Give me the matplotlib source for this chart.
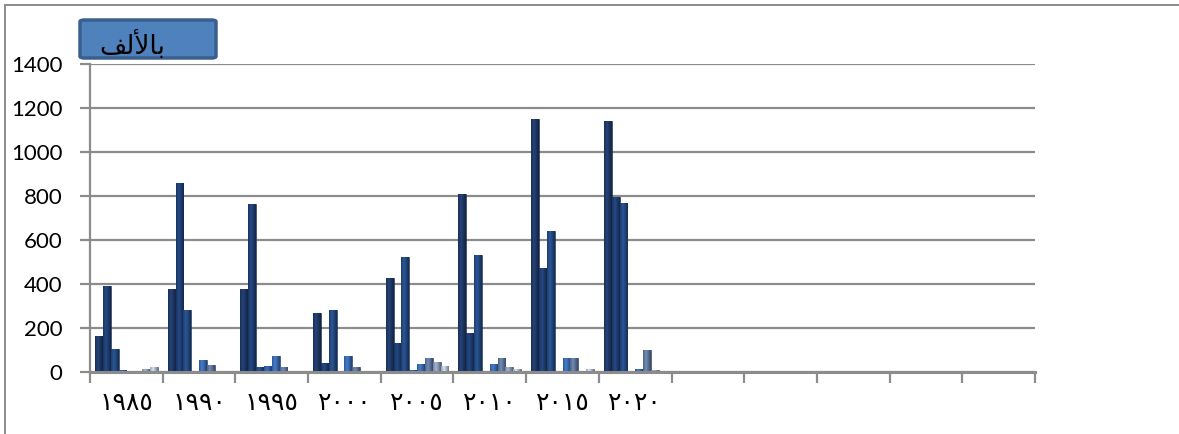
import matplotlib
matplotlib.use("Agg")
import matplotlib.pyplot as plt
import numpy as np
from matplotlib.patches import FancyBboxPatch
from matplotlib.colors import to_rgb
from matplotlib.lines import Line2D

# ---- data ----
years = ["١٩٨٥", "١٩٩٠", "١٩٩٥", "٢٠٠٠", "٢٠٠٥", "٢٠١٠", "٢٠١٥", "٢٠٢٠"]
n_slots = 13
s1 = [165, 376, 376, 267, 426, 808, 1149, 1139]
s2 = [390, 857, 762, 39, 130, 176, 471, 797]
s3 = [103, 280, 24, 282, 521, 530, 641, 767]
s4 = [8, 3, 27, 3, 8, 3, 3, 5]
s5 = [2, 54, 73, 73, 36, 36, 62, 12]
s6 = [3, 32, 22, 22, 62, 62, 62, 100]
s7 = [15, 3, 3, 3, 44, 22, 3, 10]
s8 = [22, 3, 3, 3, 27, 15, 12, 3]
series = [s1, s2, s3, s4, s5, s6, s7, s8]
colors = ["#1F3A68", "#1F3F74", "#244A82", "#2E62AC", "#3A6BB2",
          "#60789E", "#8C9DBB", "#B7C3D8"]
yticks = [0, 200, 400, 600, 800, 1000, 1200, 1400]
unit_label = "\uFED2\uFEDF\uFEF7\uFE8E\uFE91"  # بالألف (shaped, visual order)

W, H = 1179, 434
fig = plt.figure(figsize=(W / 100, H / 100), dpi=100)
ax = fig.add_axes([90 / W, 1 - 372 / H, (1035 - 90) / W, (372 - 64) / H])

grid_c = "#8C8C8C"
bw = 0.1078
x = np.arange(len(years))
for k, (vals, c) in enumerate(zip(series, colors)):
    pos = x + 0.5 + (k - 3.5) * bw
    bars = ax.bar(pos, vals, width=bw, color=c, edgecolor="#14284A",
                  linewidth=0.4, zorder=3)
    base = np.array(to_rgb(c))
    t = np.linspace(0, 1, 24)
    f = 1 - np.abs(t - 0.38) * 1.6
    light = np.clip(base[None, :] * (0.62 + 0.55 * f[:, None]), 0, 1)
    for b in bars:
        bx, by = b.get_x(), b.get_y()
        bwid, bh = b.get_width(), b.get_height()
        if bh <= 0:
            continue
        im = ax.imshow(light[None, :, :], extent=(bx, bx + bwid, by, by + bh),
                       aspect="auto", zorder=3.5, interpolation="bilinear")
        im.set_clip_path(b)

ax.set_xlim(0, n_slots)
ax.set_ylim(0, 1400)
ax.set_yticks(yticks)
ax.set_yticklabels([str(v) for v in yticks], fontsize=16, family="Lato")
ax.yaxis.grid(True, color=grid_c, linewidth=1.6, zorder=1)
ax.set_axisbelow(True)

ax.set_xticks(np.arange(n_slots + 1))
ax.set_xticklabels([])
ax.set_xticks(np.arange(n_slots) + 0.5, minor=True)
ax.set_xticklabels(years + [""] * (n_slots - len(years)), minor=True,
                   fontsize=18, family="DejaVu Sans")
ax.tick_params(axis="x", which="major", length=8, width=1.6, color=grid_c)
ax.tick_params(axis="x", which="minor", length=0, pad=14)
ax.tick_params(axis="y", length=7, width=1.6, color=grid_c, pad=13)

for s in ["top", "right"]:
    ax.spines[s].set_visible(False)
ax.spines["left"].set_color(grid_c)
ax.spines["left"].set_linewidth(1.6)
ax.spines["bottom"].set_color(grid_c)
ax.spines["bottom"].set_linewidth(2.2)
ax.spines["bottom"].set_zorder(4)

# outer frame
fig.add_artist(Line2D([4.5 / W, 4.5 / W], [0, 1 - 4.5 / H], color="#8C8C8C",
                      linewidth=1.4, transform=fig.transFigure))
fig.add_artist(Line2D([4.5 / W, 1], [1 - 4.5 / H, 1 - 4.5 / H], color="#8C8C8C",
                      linewidth=1.4, transform=fig.transFigure))

# unit box
box = FancyBboxPatch((80 / W, 1 - 58 / H), (216 - 80) / W, (58 - 20) / H,
                     boxstyle="round,pad=0,rounding_size=0.004",
                     transform=fig.transFigure, facecolor="#4F81BD",
                     edgecolor="#3A5F8E", linewidth=2.5)
fig.add_artist(box)
fig.text(99 / W, 1 - 46 / H, unit_label, fontsize=19, family="DejaVu Sans",
         ha="left", va="center", color="black")

fig.savefig("out.png", dpi=100)
